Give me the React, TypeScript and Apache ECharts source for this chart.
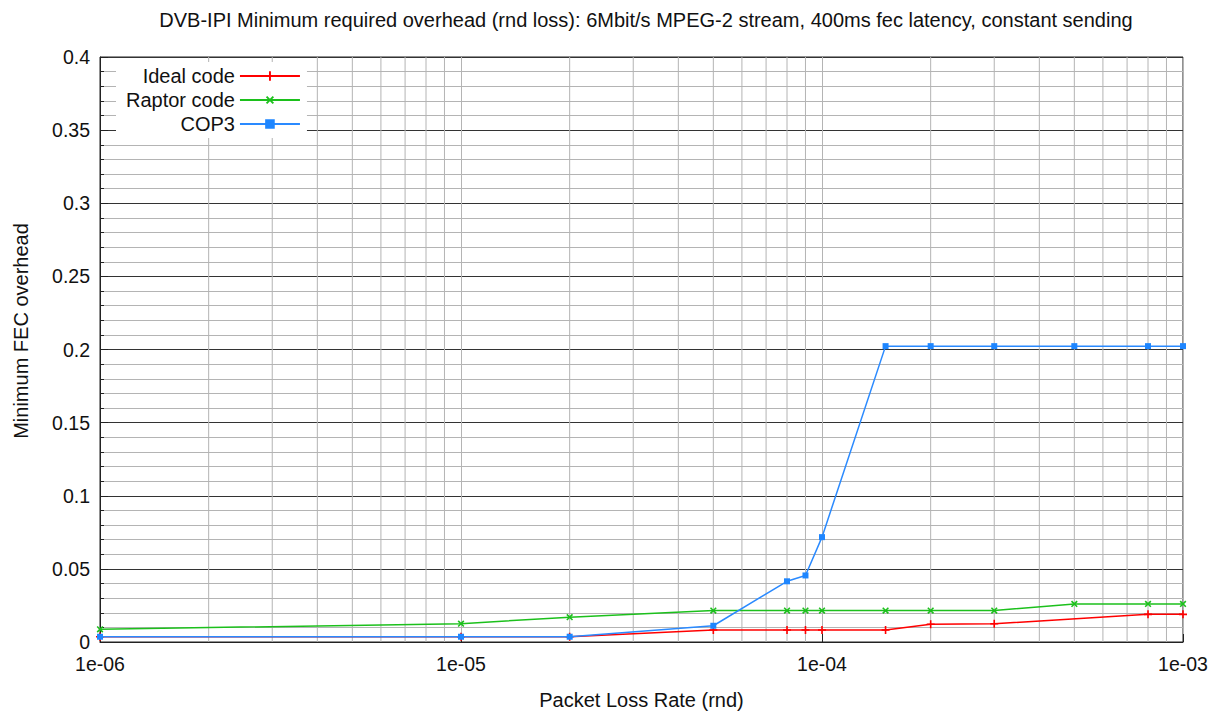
import React, { useEffect, useRef } from "react";
import * as echarts from "echarts";

const titleText =
  "DVB-IPI Minimum required overhead (rnd loss): 6Mbit/s MPEG-2 stream, 400ms fec latency, constant sending";
const xAxisTitle = "Packet Loss Rate (rnd)";
const yAxisTitle = "Minimum FEC overhead";

const idealX = [1e-6, 1e-5, 2e-5, 5e-5, 8e-5, 9e-5, 1e-4, 1.5e-4, 2e-4, 3e-4, 8e-4, 1e-3];
const idealY = [0.0036, 0.0036, 0.0036, 0.0082, 0.0082, 0.0082, 0.0082, 0.0082, 0.0121, 0.0125, 0.0189, 0.0189];

const raptorX = [1e-6, 1e-5, 2e-5, 5e-5, 8e-5, 9e-5, 1e-4, 1.5e-4, 2e-4, 3e-4, 5e-4, 8e-4, 1e-3];
const raptorY = [0.0087, 0.0125, 0.017, 0.0215, 0.0215, 0.0215, 0.0215, 0.0215, 0.0215, 0.0215, 0.026, 0.026, 0.026];

const cop3X = [1e-6, 1e-5, 2e-5, 5e-5, 8e-5, 9e-5, 1e-4, 1.5e-4, 2e-4, 3e-4, 5e-4, 8e-4, 1e-3];
const cop3Y = [0.0036, 0.0036, 0.0036, 0.0111, 0.0415, 0.0455, 0.0717, 0.2023, 0.2023, 0.2023, 0.2023, 0.2023, 0.2023];

const xTickLabels: Record<string, string> = {
  "0.000001": "1e-06",
  "0.00001": "1e-05",
  "0.0001": "1e-04",
  "0.001": "1e-03",
};

const minorXGrid = [
  2e-6, 3e-6, 4e-6, 5e-6, 6e-6, 7e-6, 8e-6, 9e-6,
  2e-5, 3e-5, 4e-5, 5e-5, 6e-5, 7e-5, 8e-5, 9e-5,
  2e-4, 3e-4, 4e-4, 5e-4, 6e-4, 7e-4, 8e-4, 9e-4,
];
const yRange = [0, 0.4];

const FONT = "Liberation Sans, Arial, sans-serif";
const PLUS =
  "path://M-1,-5L1,-5L1,-1L5,-1L5,1L1,1L1,5L-1,5L-1,1L-5,1L-5,-1L-1,-1Z";

function zip(xs: number[], ys: number[]) {
  return xs.map((x, i) => [x, ys[i]]);
}

export default function App() {
  const ref = useRef<HTMLDivElement>(null);
  useEffect(() => {
    if (!ref.current) return;
    const chart = echarts.init(ref.current, undefined, { renderer: "svg" });
    const gridData: any[] = [];
    minorXGrid.forEach((v) => {
      gridData.push([v, yRange[0]], [v, yRange[1]], [v, "-"]);
    });
    chart.setOption({
      animation: false,
      backgroundColor: "#fff",
      title: {
        text: titleText,
        left: 641,
        top: 5,
        textAlign: "center",
        textStyle: { fontFamily: FONT, fontSize: 20, fontWeight: "normal", color: "#111" },
      },
      graphic: [
        {
          type: "text",
          x: 21,
          y: 331,
          rotation: Math.PI / 2,
          style: {
            text: yAxisTitle,
            fontFamily: FONT,
            fontSize: 20,
            fill: "#111",
            align: "center",
            verticalAlign: "middle",
          },
        },
      ],
      legend: {
        orient: "vertical",
        left: 116,
        top: 62,
        align: "right",
        data: ["Ideal code", "Raptor code", "COP3"],
        itemWidth: 60,
        itemHeight: 12,
        itemGap: 4,
        backgroundColor: "#fff",
        padding: [4, 6, 4, 10],
        textStyle: { fontFamily: FONT, fontSize: 20, lineHeight: 20, color: "#111" },
      },
      grid: {
        left: 100,
        right: 35,
        top: 57,
        bottom: 74,
        show: true,
        borderColor: "#222",
        borderWidth: 1,
        backgroundColor: "transparent",
      },
      xAxis: {
        type: "log",
        logBase: 10,
        min: 1e-6,
        max: 1e-3,
        name: xAxisTitle,
        nameLocation: "middle",
        nameGap: 48,
        nameTextStyle: { fontFamily: FONT, fontSize: 20, color: "#111" },
        axisLine: { show: true, lineStyle: { color: "#222" } },
        axisTick: { show: true, inside: true, length: 8, lineStyle: { color: "#222" } },
        axisLabel: {
          fontFamily: FONT,
          fontSize: 19.5,
          color: "#111",
          margin: 12,
          formatter: (v: number) => {
            const k = String(Number(v.toPrecision(6)));
            return xTickLabels[k] ?? v.toExponential(0);
          },
        },
        splitLine: { show: true, lineStyle: { color: "#b4b4b4", width: 1 } },
      },
      yAxis: {
        type: "value",
        min: yRange[0],
        max: yRange[1],
        interval: 0.05,
        axisLine: { show: true, lineStyle: { color: "#222" } },
        axisTick: { show: true, inside: true, length: 8, lineStyle: { color: "#222" } },
        minorTick: { show: true, splitNumber: 5, length: 4, lineStyle: { color: "#222" } },
        axisLabel: { fontFamily: FONT, fontSize: 19.5, color: "#111", margin: 10 },
        splitLine: { show: true, lineStyle: { color: "#333", width: 1 } },
        minorSplitLine: { show: true, lineStyle: { color: "#b4b4b4", width: 1 } },
      },
      series: [
        {
          name: "_grid",
          type: "line",
          data: gridData,
          connectNulls: false,
          symbol: "none",
          lineStyle: { color: "#b4b4b4", width: 1 },
          z: 1,
          silent: true,
        },
        {
          name: "Ideal code",
          type: "line",
          data: zip(idealX, idealY),
          color: "#ff0000",
          symbol: PLUS,
          symbolSize: 8,
          lineStyle: { width: 1.5, color: "#ff0000" },
          itemStyle: { color: "#ff0000" },
          z: 3,
        },
        {
          name: "Raptor code",
          type: "line",
          data: zip(raptorX, raptorY),
          color: "#00c000",
          symbol: PLUS,
          symbolRotate: 45,
          symbolSize: 8,
          lineStyle: { width: 1.5, color: "#1cc01c" },
          itemStyle: { color: "#1cc01c" },
          z: 4,
        },
        {
          name: "COP3",
          type: "line",
          data: zip(cop3X, cop3Y),
          color: "#1e86ff",
          symbol: "rect",
          symbolSize: 6,
          lineStyle: { width: 1.5, color: "#2a8aff" },
          itemStyle: { color: "#1e86ff" },
          z: 5,
        },
      ],
    });
    return () => chart.dispose();
  }, []);
  return (
    <div
      ref={ref}
      style={{ position: "fixed", left: 0, top: 0, width: 1218, height: 716 }}
    />
  );
}
